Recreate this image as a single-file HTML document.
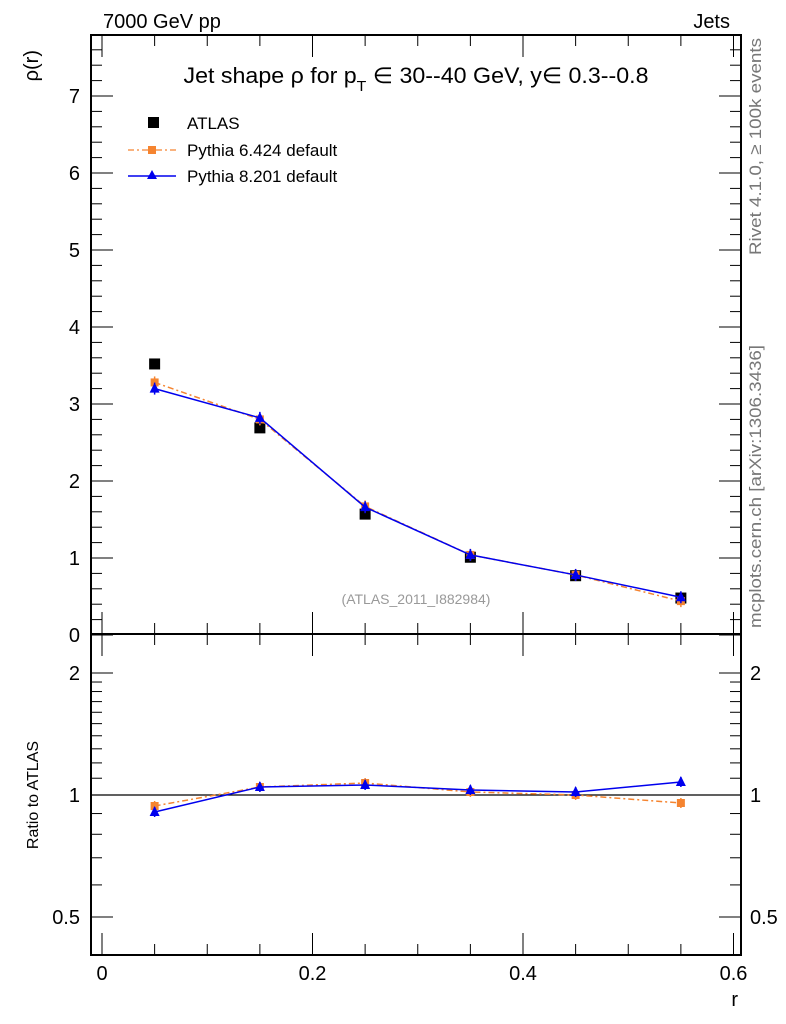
<!DOCTYPE html>
<html><head><meta charset="utf-8"><style>
html,body{margin:0;padding:0;background:#fff;}
svg{display:block;font-family:"Liberation Sans",sans-serif;}
</style></head><body>
<svg id="s" width="786" height="1024" viewBox="0 0 786 1024" xmlns="http://www.w3.org/2000/svg">
<rect width="786" height="1024" fill="#fff"/>
<text x="103" y="28" font-size="20">7000 GeV pp</text>
<text x="730" y="28" font-size="20" text-anchor="end">Jets</text>
<text x="416" y="83" font-size="22" text-anchor="middle" textLength="465" lengthAdjust="spacingAndGlyphs">Jet shape ρ for p<tspan font-size="15" dy="8">T</tspan><tspan dy="-8"> ∈ 30--40 GeV, y∈ 0.3--0.8</tspan></text>
<text transform="translate(38,50) rotate(-90)" font-size="20" text-anchor="end">ρ(r)</text>
<text transform="translate(38,795) rotate(-90)" font-size="16" text-anchor="middle">Ratio to ATLAS</text>
<text x="738" y="1006" font-size="20" text-anchor="end">r</text>
<text transform="translate(761,255) rotate(-90)" font-size="17" fill="#777" textLength="217" lengthAdjust="spacingAndGlyphs">Rivet 4.1.0, ≥ 100k events</text>
<text transform="translate(761,628) rotate(-90)" font-size="17" fill="#777" textLength="283" lengthAdjust="spacingAndGlyphs">mcplots.cern.ch [arXiv:1306.3436]</text>
<text x="416" y="604" font-size="14" fill="#999" text-anchor="middle">(ATLAS_2011_I882984)</text>
<rect x="148" y="117" width="11" height="11" fill="#000"/>
<text x="187" y="129" font-size="17">ATLAS</text>
<line x1="128" y1="150" x2="176" y2="150" stroke="#f58430" stroke-width="1.3" stroke-dasharray="6,3,2,3"/>
<rect x="148" y="146" width="8" height="8" fill="#f58430"/>
<text x="187" y="156" font-size="17">Pythia 6.424 default</text>
<line x1="128" y1="176" x2="176" y2="176" stroke="#0000ee" stroke-width="1.5"/>
<polygon points="152,170 157,179 147,179" fill="#0000ee"/>
<text x="187" y="182" font-size="17">Pythia 8.201 default</text>
<g id="g"></g>
</svg>
<script>
const g=document.getElementById('g');let h='';
const L=91,R=741,T=35,M=634,B=955;
const X=r=>102+r*1052.5, Y=v=>635-v*77, RY=v=>795-405.3*Math.log10(v);
h+=`<rect x="${L}" y="${T}" width="${R-L}" height="${M-T}" fill="none" stroke="#000" stroke-width="2"/>`;
h+=`<rect x="${L}" y="${M}" width="${R-L}" height="${B-M}" fill="none" stroke="#000" stroke-width="2"/>`;
for(let i=0;i<=12;i++){const r=i*0.05,x=X(r);if(x>R)break;const big=i%4==0,l=big?22:11;
 h+=`<line x1="${x}" y1="${T}" x2="${x}" y2="${T+l}" stroke="#000"/><line x1="${x}" y1="${M}" x2="${x}" y2="${M-l}" stroke="#000"/>`;
 h+=`<line x1="${x}" y1="${M}" x2="${x}" y2="${M+l}" stroke="#000"/><line x1="${x}" y1="${B}" x2="${x}" y2="${B-l}" stroke="#000"/>`;
 if(big)h+=`<text x="${x}" y="980" font-size="20" text-anchor="middle">${i==0?'0':(r).toFixed(1)}</text>`;}
for(let i=0;i<=38;i++){const v=i*0.2,y=Y(v);if(y<T)break;const big=i%5==0,l=big?22:11;
 h+=`<line x1="${L}" y1="${y}" x2="${L+l}" y2="${y}" stroke="#000"/><line x1="${R}" y1="${y}" x2="${R-l}" y2="${y}" stroke="#000"/>`;
 if(big)h+=`<text x="80" y="${y+7}" font-size="20" text-anchor="end">${v.toFixed(0)}</text>`;}
[0.5,0.6,0.7,0.8,0.9,1,1.1,1.2,1.3,1.4,1.5,1.6,1.7,1.8,1.9,2].forEach(v=>{const y=RY(v);const big=(v==0.5||v==1||v==2),l=big?22:11;
 h+=`<line x1="${L}" y1="${y}" x2="${L+l}" y2="${y}" stroke="#000"/><line x1="${R}" y1="${y}" x2="${R-l}" y2="${y}" stroke="#000"/>`;
 if(big){h+=`<text x="80" y="${y+7}" font-size="20" text-anchor="end">${v}</text><text x="750" y="${y+7}" font-size="20">${v}</text>`;}});
h+=`<line x1="${L}" y1="795" x2="${R}" y2="795" stroke="#000" stroke-width="1.2"/>`;
const xs=[0.05,0.15,0.25,0.35,0.45,0.55];
const at=[3.52,2.69,1.57,1.01,0.77,0.48],p6=[3.28,2.80,1.67,1.04,0.78,0.44],p8=[3.20,2.82,1.66,1.04,0.78,0.49];
const r6=[806,787,783,792,795,803],r8=[812,787,785,790,792,782];
function series(ys,col,dash,tri,err){let pts=xs.map((r,i)=>`${X(r)},${ys[i]}`).join(' ');
 let s=`<polyline points="${pts}" fill="none" stroke="${col}" stroke-width="1.5" ${dash?'stroke-dasharray="6,3,2,3"':''}/>`;
 xs.forEach((r,i)=>{const x=X(r),y=ys[i];s+=`<line x1="${x}" y1="${y-err}" x2="${x}" y2="${y+err}" stroke="${col}" stroke-width="1.5"/>`;
  s+=tri?`<polygon points="${x},${y-6} ${x+5},${y+4} ${x-5},${y+4}" fill="${col}"/>`:`<rect x="${x-4}" y="${y-4}" width="8" height="8" fill="${col}"/>`;});return s;}
xs.forEach((r,i)=>{const x=X(r),y=Y(at[i]);h+=`<rect x="${x-5.5}" y="${y-5.5}" width="11" height="11" fill="#000"/>`;});
h+=series(p6.map(Y),'#f58430',true,false,6);
h+=series(p8.map(Y),'#0000ee',false,true,6);
h+=series(r6,'#f58430',true,false,5);
h+=series(r8,'#0000ee',false,true,5);
g.innerHTML=h;
</script>
</body></html>
